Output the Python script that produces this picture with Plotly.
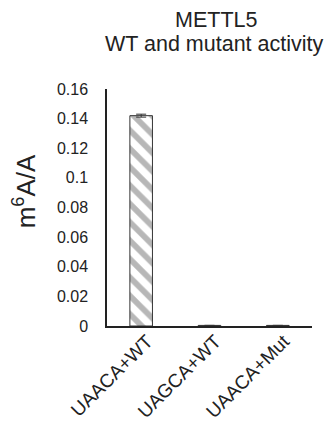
import plotly.graph_objects as go

categories = ["UAACA+WT", "UAGCA+WT", "UAACA+Mut"]
values = [0.142, 0.0004, 0.0004]
errors = [0.001, 0.0, 0.0]
y_ticks = [0, 0.02, 0.04, 0.06, 0.08, 0.1, 0.12, 0.14, 0.16]
y_tick_text = ["0", "0.02", "0.04", "0.06", "0.08", "0.1", "0.12", "0.14", "0.16"]
title_lines = ["METTL5", "WT and mutant activity"]
y_title = "m<sup>6</sup>A/A"

fig = go.Figure(go.Bar(
    x=categories, y=values,
    width=0.33,
    marker=dict(
        color="white",
        line=dict(color="#333333", width=1),
        pattern=dict(shape="\\", fgcolor="#707070", bgcolor="white", size=13, solidity=0.45),
    ),
    error_y=dict(type="data", array=errors, visible=True, color="#333333", thickness=1, width=5),
))

# page body has an 8px default margin, so the figure is 8px smaller than the window
fig.update_layout(
    width=325, height=414,
    margin=dict(l=99, r=21, t=81, b=96),
    paper_bgcolor="white", plot_bgcolor="white",
    font=dict(family="Liberation Sans, Arial, sans-serif", color="#222222"),
    showlegend=False,
    annotations=[
        dict(text=title_lines[0], x=0.532, y=1.29, xref="paper", yref="paper",
             xanchor="center", yanchor="middle", showarrow=False, font=dict(size=21.5)),
        dict(text=title_lines[1], x=0.525, y=1.19, xref="paper", yref="paper",
             xanchor="center", yanchor="middle", showarrow=False, font=dict(size=21.5)),
        dict(text=y_title, x=-0.398, y=0.57, xref="paper", yref="paper", textangle=-90,
             xanchor="center", yanchor="middle", showarrow=False, font=dict(size=26)),
    ],
)
fig.update_yaxes(range=[0, 0.16], tickvals=y_ticks, ticktext=y_tick_text,
                 showgrid=False, showline=True, linecolor="#222222", linewidth=1.5,
                 ticks="", tickfont=dict(size=16), zeroline=False, ticklabelstandoff=14,
                 automargin=False)
fig.update_xaxes(showline=True, linecolor="#222222", linewidth=1.5, ticks="",
                 tickangle=-45, tickfont=dict(size=19), automargin=False,
                 ticklabelstandoff=-5, ticklabelshift=6)

fig.write_html("out.html")
